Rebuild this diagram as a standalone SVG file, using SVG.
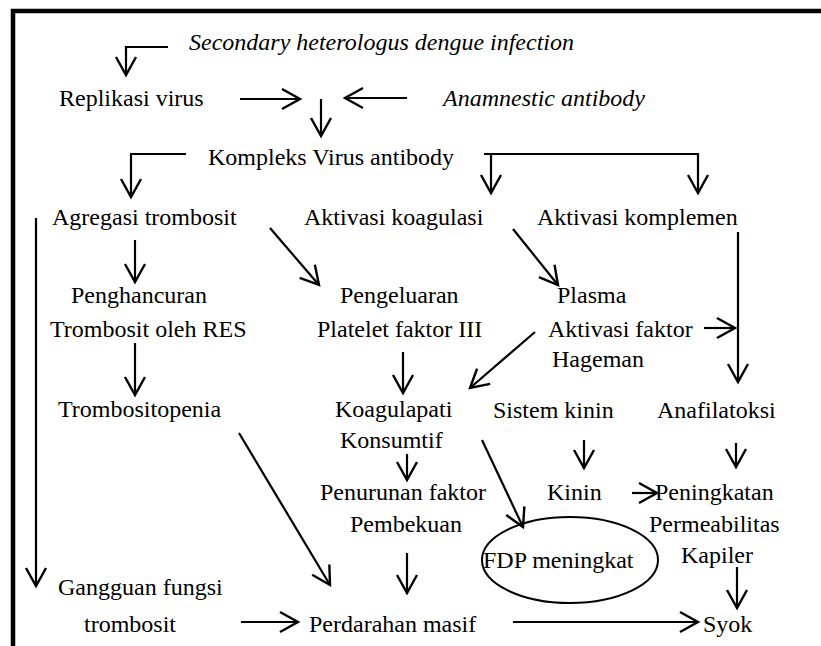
<svg xmlns="http://www.w3.org/2000/svg" width="821" height="646" viewBox="0 0 821 646">
<style>
.t text{font-family:'Liberation Serif','DejaVu Serif','Times New Roman',serif;font-size:24px;fill:#000}
.t .it{font-style:italic}
.c line,.c polyline{stroke:#000;stroke-width:2.2;fill:none;marker-end:url(#ah)}
</style>
<defs>
<marker id="ah" markerUnits="userSpaceOnUse" markerWidth="40" markerHeight="40" viewBox="-20 -20 40 40" refX="0" refY="0" orient="auto" overflow="visible">
<path d="M-18,-10 L0,0 L-18,10" fill="none" stroke="#000" stroke-width="2.4"/>
</marker>
</defs>
<rect width="821" height="646" fill="#fff"/>
<rect x="13" y="11" width="830" height="660" fill="none" stroke="#000" stroke-width="4.5"/>
<g class="t">
<g id="n-secondary"><text class="it" x="189" y="50">Secondary heterologus dengue infection</text></g>
<g id="n-replikasi"><text x="59" y="106">Replikasi virus</text></g>
<g id="n-anamnestic"><text class="it" x="443" y="106">Anamnestic antibody</text></g>
<g id="n-kompleks"><text x="208" y="165">Kompleks Virus antibody</text></g>
<g id="n-agregasi"><text x="52" y="225">Agregasi trombosit</text></g>
<g id="n-koagulasi"><text x="304" y="225">Aktivasi koagulasi</text></g>
<g id="n-komplemen"><text x="537" y="225">Aktivasi komplemen</text></g>
<g id="n-penghancuran"><text x="71" y="303">Penghancuran</text><text x="50" y="337">Trombosit oleh RES</text></g>
<g id="n-pengeluaran"><text x="340" y="303">Pengeluaran</text><text x="317" y="337">Platelet faktor III</text></g>
<g id="n-plasma"><text x="557" y="303">Plasma</text><text x="548" y="337">Aktivasi faktor</text><text x="552" y="367">Hageman</text></g>
<g id="n-trombositopenia"><text x="58" y="417">Trombositopenia</text></g>
<g id="n-koagulapati"><text x="335" y="417">Koagulapati</text><text x="340" y="448">Konsumtif</text></g>
<g id="n-sistemkinin"><text x="493" y="418">Sistem kinin</text></g>
<g id="n-anafilatoksi"><text x="657" y="418">Anafilatoksi</text></g>
<g id="n-penurunan"><text x="320" y="500">Penurunan faktor</text><text x="350" y="532">Pembekuan</text></g>
<g id="n-kinin"><text x="547" y="500">Kinin</text></g>
<g id="n-peningkatan"><text x="655" y="500">Peningkatan</text><text x="649" y="532">Permeabilitas</text><text x="681" y="563">Kapiler</text></g>
<g id="n-fdp"><ellipse cx="570" cy="560" rx="88" ry="43" fill="none" stroke="#000" stroke-width="2"/><text x="483" y="568">FDP meningkat</text></g>
<g id="n-gangguan"><text x="58" y="595">Gangguan fungsi</text><text x="84" y="632">trombosit</text></g>
<g id="n-perdarahan"><text x="309" y="632">Perdarahan masif</text></g>
<g id="n-syok"><text x="703" y="632">Syok</text></g>
</g>
<g id="connectors" class="c">
<polyline points="168,47 126,47 126,75"/>
<line x1="240" y1="99" x2="300" y2="99"/>
<line x1="407" y1="98" x2="345" y2="98"/>
<line x1="321" y1="99" x2="321" y2="136"/>
<polyline points="186,154 131,154 131,197"/>
<polyline points="484,154 698,154 698,193"/>
<line x1="491" y1="154" x2="491" y2="193"/>
<line x1="135" y1="240" x2="135" y2="282"/>
<line x1="270" y1="228" x2="319" y2="285"/>
<line x1="513" y1="229" x2="558" y2="285"/>
<line x1="738" y1="232" x2="738" y2="382"/>
<line x1="36" y1="218" x2="36" y2="586"/>
<line x1="135" y1="343" x2="135" y2="395"/>
<line x1="403" y1="352" x2="403" y2="393"/>
<line x1="704" y1="328" x2="735" y2="328"/>
<line x1="535" y1="332" x2="470" y2="388"/>
<line x1="239" y1="433" x2="330" y2="585"/>
<line x1="407" y1="454" x2="407" y2="480"/>
<line x1="482" y1="440" x2="523" y2="527"/>
<line x1="584" y1="440" x2="584" y2="468"/>
<line x1="736" y1="443" x2="736" y2="467"/>
<line x1="632" y1="493" x2="657" y2="493"/>
<line x1="407" y1="553" x2="407" y2="593"/>
<line x1="737" y1="567" x2="737" y2="608"/>
<line x1="241" y1="622" x2="298" y2="622"/>
<line x1="513" y1="622" x2="698" y2="622"/>
</g>
</svg>
